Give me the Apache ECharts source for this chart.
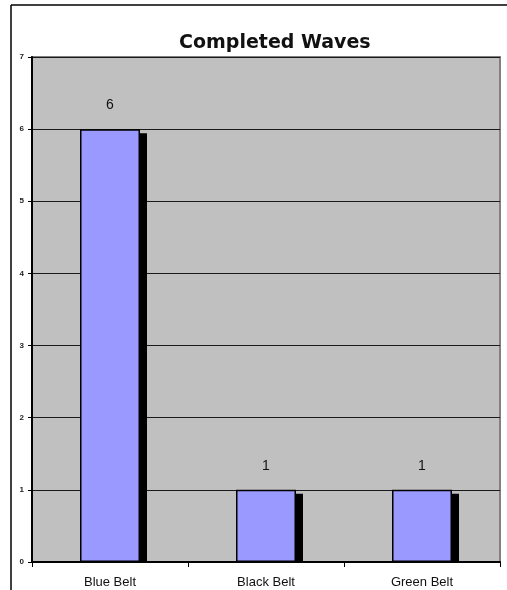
<!DOCTYPE html>
<html>
<head>
<meta charset="utf-8">
<style>
  html, body { margin: 0; padding: 0; background: #ffffff; }
  #chart { width: 507px; height: 590px; }
</style>
<script src="https://cdn.jsdelivr.net/npm/echarts@6/dist/echarts.min.js"></script>
</head>
<body>
<div id="chart"></div>
<script>
// Completed waves per belt level
const categories = ['Blue Belt', 'Black Belt', 'Green Belt'];
const waves = [6, 1, 1];
const yTicks = [0, 1, 2, 3, 4, 5, 6, 7];

const BAR_WIDTH = 60;
const SHADOW_DX = 7;
const SHADOW_DY = 4;

const chart = echarts.init(document.getElementById('chart'), null, { renderer: 'canvas' });

// Solid drop shadow behind each bar, cut off at the baseline
function renderShadow(params, api) {
  const top = api.coord([api.value(0), api.value(1)]);
  const base = api.coord([api.value(0), 0]);
  const x = top[0] - BAR_WIDTH / 2 + SHADOW_DX;
  const y = top[1] + SHADOW_DY;
  return {
    type: 'rect',
    shape: { x: x, y: y, width: BAR_WIDTH, height: Math.max(0, base[1] - y) },
    style: { fill: '#000000' }
  };
}

chart.setOption({
  backgroundColor: '#ffffff',
  animation: false,
  title: {
    text: 'Completed Waves',
    left: 174,
    top: 29,
    textStyle: {
      fontFamily: 'DejaVu Sans',
      fontWeight: 'bold',
      fontSize: 19,
      color: '#111111'
    }
  },
  grid: {
    left: 32,
    top: 57,
    right: 7,
    bottom: 28,
    show: true,
    backgroundColor: '#c0c0c0',
    borderColor: '#808080',
    borderWidth: 2
  },
  xAxis: {
    type: 'category',
    data: categories,
    boundaryGap: true,
    axisLine: { show: true, lineStyle: { color: '#000000', width: 2 } },
    axisTick: { show: true, alignWithLabel: false, length: 5, lineStyle: { color: '#000000', width: 1 } },
    axisLabel: {
      margin: 14,
      fontFamily: 'Liberation Sans',
      fontSize: 13,
      color: '#111111'
    },
    splitLine: { show: false }
  },
  yAxis: {
    type: 'value',
    min: yTicks[0],
    max: yTicks[yTicks.length - 1],
    interval: 1,
    axisLine: { show: true, lineStyle: { color: '#000000', width: 2 } },
    axisTick: { show: true, length: 4, lineStyle: { color: '#000000', width: 1 } },
    axisLabel: {
      margin: 8,
      fontFamily: 'Liberation Sans',
      fontWeight: 'bold',
      fontSize: 8,
      color: '#222222'
    },
    splitLine: { show: true, lineStyle: { color: '#1a1a1a', width: 1 } }
  },
  series: [
    {
      type: 'custom',
      renderItem: renderShadow,
      data: waves.map((v, i) => [i, v]),
      encode: { x: 0, y: 1 },
      silent: true,
      z: 1
    },
    {
      type: 'bar',
      data: waves,
      barWidth: BAR_WIDTH,
      z: 2,
      itemStyle: {
        color: '#9999ff',
        borderColor: '#000000',
        borderWidth: 1.5
      },
      label: {
        show: true,
        position: 'top',
        distance: 17,
        fontFamily: 'Liberation Sans',
        fontSize: 14,
        color: '#111111'
      }
    }
  ],
  graphic: [
    {
      type: 'line',
      shape: { x1: 11, y1: 5, x2: 507, y2: 5 },
      style: { stroke: '#000000', lineWidth: 1.5 }
    },
    {
      type: 'line',
      shape: { x1: 11, y1: 5, x2: 11, y2: 590 },
      style: { stroke: '#000000', lineWidth: 1.5 }
    }
  ]
});
</script>
</body>
</html>
